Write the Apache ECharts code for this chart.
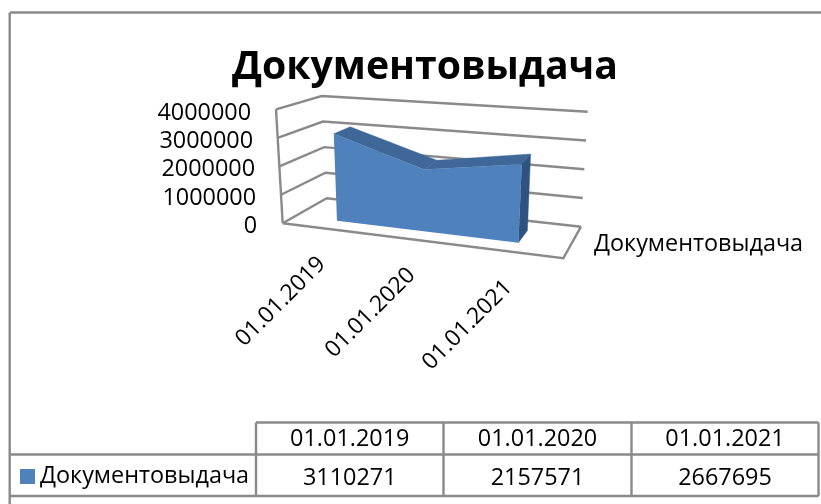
<!DOCTYPE html>
<html><head><meta charset="utf-8">
<style>html,body{margin:0;padding:0;background:#fff}#c{width:821px;height:504px}</style>
<script src="https://cdn.jsdelivr.net/npm/echarts@6/dist/echarts.min.js"></script>
</head><body><div id="c"></div>
<script>
const titleText = 'Документовыдача';
const seriesName = 'Документовыдача';
const categories = ['01.01.2019', '01.01.2020', '01.01.2021'];
const values = [3110271, 2157571, 2667695];
const yTicks = [0, 1000000, 2000000, 3000000, 4000000];

const FONT = '"Open Sans", sans-serif';
const FS = 23.4;
const LINE = '#8a8a8a';
const LW = 2.4;
const box = {left: 260, top: 113, width: 300, height: 113.3};
// box corners of the 3D plot: front/back, left/right, bottom/top
const C = {
  flb: [282.7, 223.3], flt: [276, 109.3], blb: [326.7, 198.3], blt: [321.7, 96],
  frb: [563.3, 258.3], frt: [571.3, 137], brb: [581, 226.7], brt: [587.7, 111.7]
};
const PERSP = 1.128, V_FRONT = 0.3, V_BACK = 0.7;
const mix = (a, b, t) => [a[0] + (b[0] - a[0]) * t, a[1] + (b[1] - a[1]) * t];
function project(u, v, w) {
  const uu = u / (PERSP - (PERSP - 1) * u);
  const fb = mix(C.flb, C.frb, uu), ft = mix(C.flt, C.frt, uu);
  const bb = mix(C.blb, C.brb, uu), bt = mix(C.blt, C.brt, uu);
  return mix(mix(fb, ft, w), mix(bb, bt, w), v);
}
function toUW(api, i, val) {
  const p = api.coord([i, val]);
  return [(p[0] - box.left) / box.width, (box.top + box.height - p[1]) / box.height];
}
const poly = (points, color, lw) => ({type: 'polygon', shape: {points},
  style: {fill: color, stroke: color, lineWidth: lw}});

function renderWall(params, api) {
  const val = api.value(0);
  const w = toUW(api, 0, val)[1];
  const pts = [project(0, 0, w), project(0, 1, w), project(1, 1, w)];
  const children = [{type: 'polyline', shape: {points: pts},
    style: {stroke: LINE, lineWidth: LW, fill: null}}];
  if (val === 0) {
    children.push({type: 'polyline', shape: {points: [project(0, 0, 0), project(1, 0, 0), project(1, 1, 0)]},
      style: {stroke: LINE, lineWidth: LW, fill: null}});
  }
  if (params.dataIndex === yTicks.length - 1) {
    children.push({type: 'line', shape: {x1: project(0, 0, 0)[0], y1: project(0, 0, 0)[1],
      x2: project(0, 0, w)[0], y2: project(0, 0, w)[1]},
      style: {stroke: LINE, lineWidth: LW}});
  }
  return {type: 'group', children};
}
function renderArea(params, api) {
  const i = params.dataIndex, children = [];
  const [u0, w0] = toUW(api, i, api.value(1));
  const floor = project(u0, 0, 0);
  if (i < values.length - 1) {
    const [u1, w1] = toUW(api, i + 1, values[i + 1]);
    children.push(poly([project(u0, V_FRONT, w0), project(u0, V_BACK, w0),
      project(u1, V_BACK, w1), project(u1, V_FRONT, w1)], '#3f6899', 0.4));
  } else {
    children.push(poly([project(u0, V_FRONT, 0), project(u0, V_FRONT, w0),
      project(u0, V_BACK, w0), project(u0, V_BACK, 0)], '#2f5380', 0.4));
  }
  if (i === 0) {
    // front face spans every category
    const tops = values.map((v, k) => { const q = toUW(api, k, v); return project(q[0], V_FRONT, q[1]); });
    const us = values.map((v, k) => toUW(api, k, v)[0]);
    const outline = [project(us[0], V_FRONT, 0)].concat(tops, [project(us[us.length - 1], V_FRONT, 0)]);
    children.push({type: 'polygon', z2: 5, shape: {points: outline}, style: {fill: '#4f81bd'}});
  }
  children.push({type: 'text', x: floor[0] - 3, y: floor[1] + 32, rotation: Math.PI / 4,
    style: {text: categories[i], x: 0, y: 0, align: 'right', verticalAlign: 'middle',
      font: '400 22.8px ' + FONT, fill: '#000'}});
  return {type: 'group', children};
}

// data table, built from the arrays
const rowX = [256, 443.5, 631.5, 818.5];
const yTop = 422.5, yMid = 454.5, yBot = 496;
const tLine = (x1, y1, x2, y2) => ({type: 'line', silent: true,
  shape: {x1, y1, x2, y2}, style: {stroke: LINE, lineWidth: LW}});
const tText = (text, x, y) => ({type: 'text', silent: true,
  style: {text, x, y, align: 'center', verticalAlign: 'middle', font: '400 ' + FS + 'px ' + FONT, fill: '#000'}});
const graphics = [
  tLine(10, 12.5, 821, 12.5), tLine(9.7, 12.5, 9.7, 504),
  tLine(256, yTop, 818.5, yTop), tLine(9.7, yMid, 818.5, yMid), tLine(9.7, yBot, 818.5, yBot)
];
rowX.forEach(x => graphics.push(tLine(x, yTop, x, yBot)));
categories.forEach((c, i) => {
  const cx = (rowX[i] + rowX[i + 1]) / 2;
  graphics.push(tText(c, cx, 439));
  graphics.push(tText(String(values[i]), cx, 478));
});
graphics.push({type: 'text', silent: true, style: {text: seriesName, x: 594, y: 244, align: 'left',
  verticalAlign: 'middle', font: '400 ' + FS + 'px ' + FONT, fill: '#000'}});

const pad = {0: 1, 1000000: 2, 2000000: 3, 3000000: 5, 4000000: 7};
const rich = {};
yTicks.forEach((t, i) => { rich['t' + i] = {padding: [0, pad[t], 0, 0], fontFamily: FONT, fontSize: FS, color: '#000'}; });

const chart = echarts.init(document.getElementById('c'), null, {renderer: 'canvas'});
chart.setOption({
  animation: false,
  backgroundColor: '#fff',
  title: {text: titleText, left: 420, top: 43, textAlign: 'center',
    textStyle: {fontFamily: FONT, fontWeight: 'bold', fontSize: 39.2, color: '#000'}},
  legend: {data: [seriesName], left: 15, top: 460, icon: 'rect', itemWidth: 15, itemHeight: 15, itemGap: 0,
    selectedMode: false, textStyle: {fontFamily: FONT, fontSize: FS, color: '#000'}},
  grid: {left: box.left, top: box.top, width: box.width, height: box.height, containLabel: false},
  xAxis: {type: 'category', data: categories, show: false, boundaryGap: true},
  yAxis: {type: 'value', min: 0, max: 4000000, interval: 1000000,
    axisLine: {show: false}, axisTick: {show: false}, splitLine: {show: false},
    axisLabel: {margin: 2, formatter: v => `{t${yTicks.indexOf(v)}|${v}}`, rich}},
  graphic: graphics,
  series: [
    {type: 'custom', name: 'walls', silent: true, coordinateSystem: 'cartesian2d',
      data: yTicks.map(t => [t]), encode: {x: [], y: 0}, renderItem: renderWall, z: 1},
    {type: 'custom', name: seriesName, silent: true, coordinateSystem: 'cartesian2d',
      data: values.map((v, i) => [i, v]), encode: {x: 0, y: 1}, renderItem: renderArea, z: 2,
      itemStyle: {color: '#4f81bd'}}
  ]
});
</script></body></html>
